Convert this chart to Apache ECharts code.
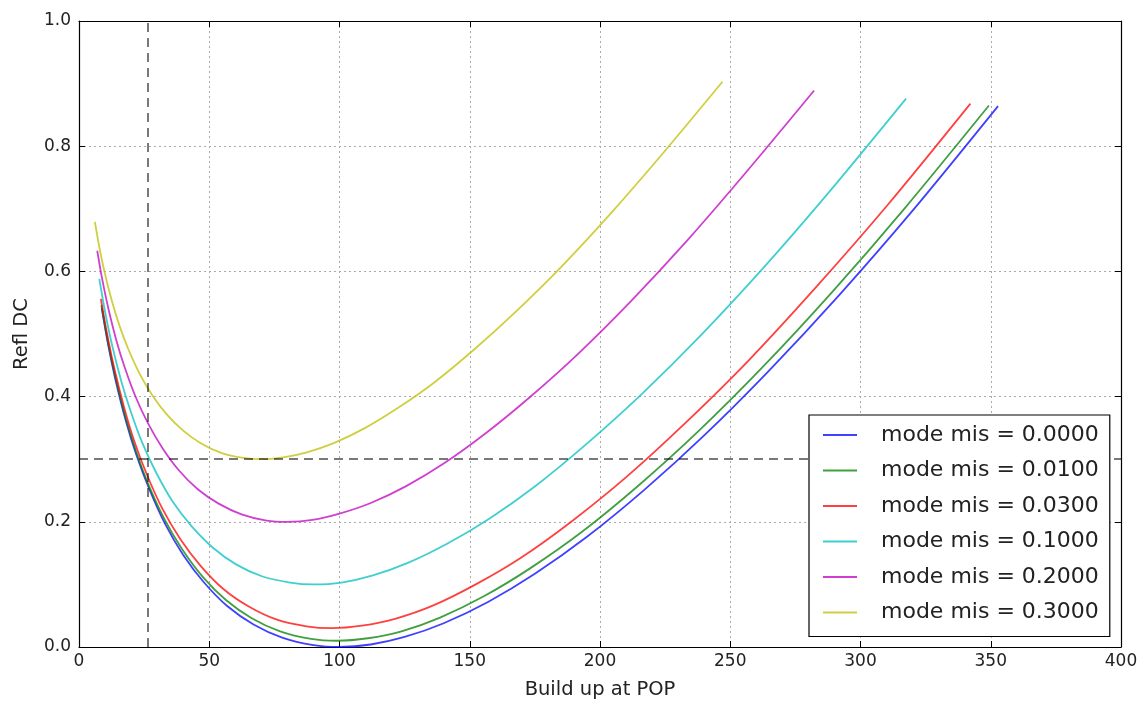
<!DOCTYPE html>
<html>
<head>
<meta charset="utf-8">
<script src="https://cdn.jsdelivr.net/npm/echarts@6/dist/echarts.min.js"></script>
<style>
html,body{margin:0;padding:0;background:#fff;}
#chart{width:1148px;height:703px;}
</style>
</head>
<body>
<div id="chart"></div>
<script>
// ---- data ----
const misLabels = ['0.0000', '0.0100', '0.0300', '0.1000', '0.2000', '0.3000'];

const xBlue = [8.7,11,14,18,22,27,33,40,48,57,67,78,90,100,112,125,140,157,175,195,217,240,265,292,320,352.8];
const yBlue = [0.542,0.487,0.427,0.361,0.307,0.252,0.197,0.147,0.103,0.065,0.036,0.015,0.003,0,0.004,0.016,0.038,0.072,0.117,0.176,0.251,0.338,0.442,0.563,0.697,0.864];

const xGreen = [8.6,10.9,13.9,17.8,21.8,26.7,32.7,39.6,47.5,56.4,66.3,77.2,89.1,99,110.9,123.8,138.6,155.4,173.3,193.1,214.8,237.6,262.4,289.1,316.8,349.3];
const yGreen = [0.546,0.492,0.433,0.368,0.314,0.259,0.205,0.156,0.112,0.075,0.046,0.025,0.013,0.01,0.014,0.025,0.047,0.081,0.126,0.184,0.258,0.344,0.447,0.567,0.700,0.865];

const xRed = [8.4,10.7,13.6,17.5,21.3,26.2,32,38.8,46.6,55.3,65,75.7,87.3,97,108.6,121.3,135.8,152.3,169.8,189.2,210.5,232.8,257.1,283.2,310.4,342.2];
const yRed = [0.556,0.502,0.444,0.380,0.328,0.274,0.221,0.173,0.130,0.093,0.065,0.044,0.033,0.030,0.034,0.045,0.066,0.100,0.143,0.201,0.273,0.358,0.458,0.576,0.706,0.868];

const xCyan = [7.8,9.9,12.6,16.2,19.8,24.3,29.7,36,43.2,51.3,60.3,70.2,81,90,100.8,112.5,126,141.3,157.5,175.5,195.3,216,238.5,262.8,288,317.5];
const yCyan = [0.588,0.538,0.484,0.425,0.377,0.326,0.278,0.232,0.193,0.159,0.132,0.113,0.103,0.100,0.103,0.114,0.134,0.165,0.205,0.258,0.326,0.404,0.497,0.606,0.727,0.876];

const xMagenta = [7,8.8,11.2,14.4,17.6,21.6,26.4,32,38.4,45.6,53.6,62.4,72,80,89.6,100,112,125.6,140,156,173.6,192,212,233.6,256,282.2];
const yMagenta = [0.633,0.590,0.542,0.489,0.446,0.401,0.358,0.318,0.282,0.252,0.229,0.212,0.202,0.200,0.203,0.213,0.230,0.257,0.293,0.341,0.401,0.470,0.553,0.650,0.758,0.889];

const xYellow = [6.1,7.7,9.8,12.6,15.4,18.9,23.1,28,33.6,39.9,46.9,54.6,63,70,78.4,87.5,98,109.9,122.5,136.5,151.9,168,185.5,204.4,224,247];
const yYellow = [0.679,0.641,0.599,0.553,0.515,0.476,0.438,0.403,0.372,0.346,0.325,0.310,0.302,0.300,0.303,0.311,0.326,0.350,0.382,0.423,0.476,0.537,0.609,0.694,0.788,0.903];

const refX = 26.5;   // vertical dashed line
const refY = 0.3;    // horizontal dashed line

const xTicks = [0, 400, 50];      // min, max, step
const yTicks = [0, 1.0, 0.2];

// ---- styling ----
const colors = ['#0000ff', '#008000', '#ff0000', '#00bfbf', '#bf00bf', '#bfbf00'];
const FONT = 'DejaVu Sans';

const xs = [xBlue, xGreen, xRed, xCyan, xMagenta, xYellow];
const ys = [yBlue, yGreen, yRed, yCyan, yMagenta, yYellow];
const names = misLabels.map(m => 'mode mis = ' + m);

const series = names.map((n, i) => ({
  name: n,
  type: 'line',
  data: xs[i].map((x, k) => [x, ys[i][k]]),
  smooth: 0.3,
  showSymbol: false,
  symbol: 'none',
  color: colors[i],
  itemStyle: { color: colors[i], opacity: 0.75 },
  lineStyle: { color: colors[i], width: 1.8, opacity: 0.75 },
  z: 3,
  silent: true
}));

series.push({
  name: 'ref',
  type: 'line',
  data: [],
  silent: true,
  z: 4,
  markLine: {
    silent: true,
    symbol: ['none', 'none'],
    label: { show: false },
    animation: false,
    lineStyle: { color: '#000', opacity: 0.7, width: 1.5, type: [9, 6] },
    data: [{ xAxis: refX }, { yAxis: refY }]
  }
});

const axisCommon = {
  axisLine: { show: true, onZero: false, lineStyle: { color: '#000', width: 1.2 } },
  axisTick: { show: true, inside: true, length: 6, lineStyle: { color: '#000' } }
};

const chart = echarts.init(document.getElementById('chart'), null, { renderer: 'canvas' });
chart.setOption({
  animation: false,
  backgroundColor: '#fff',
  grid: { left: 79, right: 27, top: 21, bottom: 56, containLabel: false, outerBoundsMode: 'none' },
  xAxis: [
    Object.assign({
      type: 'value', min: xTicks[0], max: xTicks[1], interval: xTicks[2], position: 'bottom',
      axisLabel: { color: '#222', fontSize: 17, fontFamily: FONT, margin: 6 },
      splitLine: { show: true, lineStyle: { color: '#aaa', width: 1, type: [2, 3] } },
      name: 'Build up at POP', nameLocation: 'middle', nameGap: 33,
      nameTextStyle: { color: '#222', fontSize: 19.5, fontFamily: FONT }
    }, axisCommon),
    Object.assign({
      type: 'value', min: xTicks[0], max: xTicks[1], interval: xTicks[2], position: 'top',
      axisLabel: { show: false }, splitLine: { show: false }
    }, axisCommon)
  ],
  yAxis: [
    Object.assign({
      type: 'value', min: yTicks[0], max: yTicks[1], interval: yTicks[2], position: 'left',
      axisLabel: { color: '#222', fontSize: 17, fontFamily: FONT, margin: 8, formatter: v => v.toFixed(1) },
      splitLine: { show: true, lineStyle: { color: '#aaa', width: 1, type: [2, 3] } },
      name: 'Refl DC', nameLocation: 'middle', nameGap: 47, nameRotate: 90,
      nameTextStyle: { color: '#222', fontSize: 19.5, fontFamily: FONT }
    }, axisCommon),
    Object.assign({
      type: 'value', min: yTicks[0], max: yTicks[1], interval: yTicks[2], position: 'right',
      axisLabel: { show: false }, splitLine: { show: false }
    }, axisCommon)
  ],
  legend: {
    data: names,
    orient: 'vertical',
    left: 809, top: 415,
    padding: [7, 11, 11, 14],
    itemGap: 9.5,
    itemWidth: 34, itemHeight: 2,
    icon: 'rect',
    backgroundColor: '#fff',
    borderColor: '#000', borderWidth: 1.2, borderRadius: 0,
    selectedMode: false,
    textStyle: { fontSize: 22, lineHeight: 26, fontFamily: FONT, color: '#222', padding: [0, 0, 0, 19] },
    z: 10
  },
  series: series
});
</script>
</body>
</html>
